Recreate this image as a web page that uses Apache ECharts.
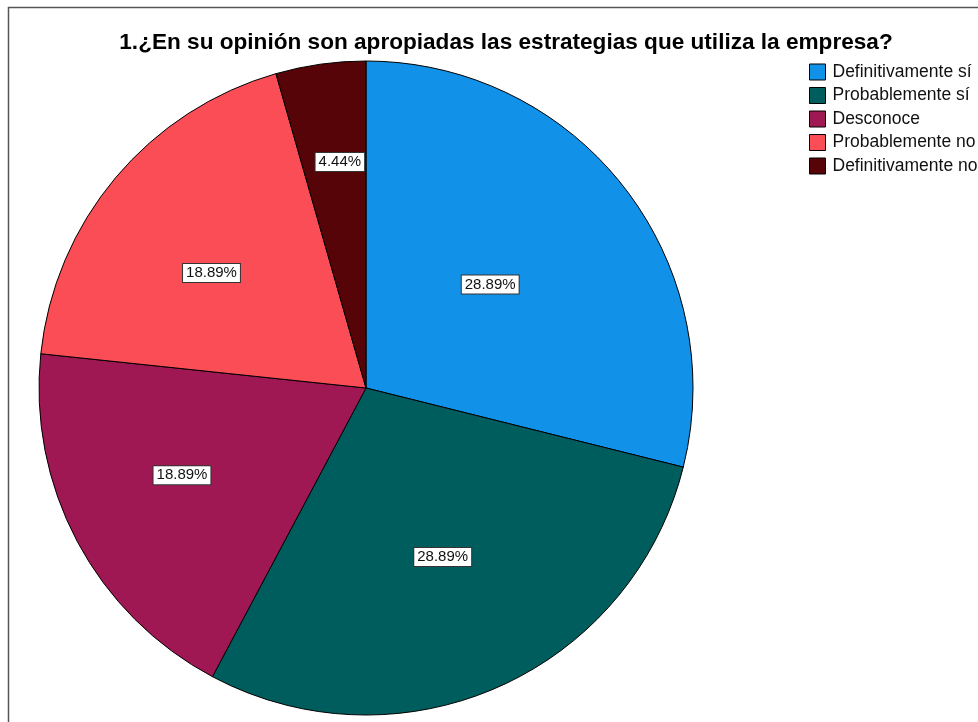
<!DOCTYPE html>
<html>
<head>
<meta charset="utf-8">
<script src="https://cdn.jsdelivr.net/npm/echarts@6/dist/echarts.min.js"></script>
<style>
html,body{margin:0;padding:0;background:#fff;}
#chart{width:978px;height:722px;}
</style>
</head>
<body>
<div id="chart"></div>
<script>
const titleText = '1.¿En su opinión son apropiadas las estrategias que utiliza la empresa?';
const categories = ['Definitivamente sí', 'Probablemente sí', 'Desconoce', 'Probablemente no', 'Definitivamente no'];
const percentages = [28.89, 28.89, 18.89, 18.89, 4.44];
const colors = ['#1192e8', '#005d5d', '#9f1853', '#fa4d56', '#570408'];
const labelOffsets = [[-7, -1], [9, 17], [-37, 9], [-27, -8], [-3, -61]];

const chart = echarts.init(document.getElementById('chart'), null, {renderer: 'canvas'});
const FONT = '"Liberation Sans", Arial, sans-serif';

chart.setOption({
  backgroundColor: '#ffffff',
  animation: false,
  color: colors,
  graphic: [{
    type: 'rect',
    shape: {x: 8.5, y: 7.5, width: 1100, height: 1100},
    style: {fill: 'none', stroke: '#555', lineWidth: 1.5},
    silent: true
  }],
  title: {
    text: titleText,
    left: 501,
    top: 26,
    textAlign: 'center',
    textStyle: {fontFamily: FONT, fontWeight: 'bold', fontSize: 22.6, color: '#000'}
  },
  legend: {
    orient: 'vertical',
    left: 804,
    top: 58,
    itemWidth: 16,
    itemHeight: 16,
    itemGap: 5.5,
    icon: 'rect',
    itemStyle: {borderColor: '#000', borderWidth: 1},
    textStyle: {fontFamily: FONT, fontSize: 17.5, lineHeight: 17.5, color: '#111', padding: [0, 0, 0, 2]},
    data: categories
  },
  series: [{
    type: 'pie',
    center: [366, 388],
    radius: [0, 327],
    startAngle: 90,
    clockwise: true,
    avoidLabelOverlap: false,
    itemStyle: {borderColor: '#000', borderWidth: 1},
    emphasis: {disabled: true},
    labelLine: {show: false},
    data: categories.map((name, i) => ({
      name: name,
      value: percentages[i],
      label: {offset: labelOffsets[i]}
    })),
    label: {
      show: true,
      position: 'inside',
      formatter: p => p.value.toFixed(2) + '%',
      fontFamily: FONT,
      fontSize: 15,
      color: '#111',
      backgroundColor: '#fff',
      borderColor: '#333',
      borderWidth: 1,
      padding: [2, 3, 1, 3]
    }
  }]
});
</script>
</body>
</html>
